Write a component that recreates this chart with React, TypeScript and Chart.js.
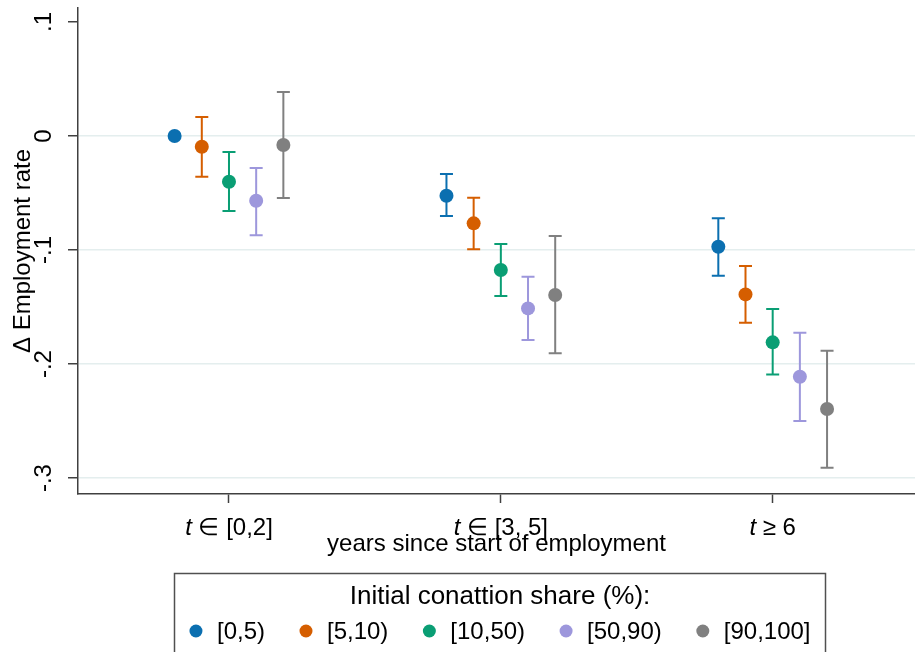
import React, { useEffect, useRef } from 'react';
import { Chart, registerables } from 'chart.js';

Chart.register(...registerables);

// ---------- data ----------
const categories = ['t ∈ [0,2]', 't ∈ [3, 5]', 't ≥ 6'];
const categoryPositions = [1, 2, 3];
const seriesNames = ['[0,5)', '[5,10)', '[10,50)', '[50,90)', '[90,100]'];
const seriesColors = ['#0b6fb0', '#d55e00', '#0a9e74', '#9d97dc', '#808080'];
const seriesOffsets = [-0.2, -0.1, 0, 0.1, 0.2];

const est0to5 = [0, -0.0524, -0.0971];
const hi0to5: (number | null)[] = [null, -0.0333, -0.0722];
const lo0to5: (number | null)[] = [null, -0.0702, -0.1225];

const est5to10 = [-0.0094, -0.0766, -0.1389];
const hi5to10 = [0.0167, -0.0541, -0.114];
const lo5to10 = [-0.0357, -0.0994, -0.1638];

const est10to50 = [-0.0401, -0.1175, -0.181];
const hi10to50 = [-0.014, -0.0947, -0.1518];
const lo10to50 = [-0.0658, -0.1404, -0.2091];

const est50to90 = [-0.0568, -0.1512, -0.2111];
const hi50to90 = [-0.0281, -0.1234, -0.1725];
const lo50to90 = [-0.087, -0.1789, -0.25];

const est90to100 = [-0.0079, -0.1395, -0.2395];
const hi90to100 = [0.0386, -0.0877, -0.1883];
const lo90to100 = [-0.0544, -0.1906, -0.2909];

const yTickValues = [-0.3, -0.2, -0.1, 0, 0.1];
const yTickLabels = ['-.3', '-.2', '-.1', '0', '.1'];

const legendTitle = 'Initial conattion share (%):';
const xTitle = 'years since start of employment';
const yTitle = 'Δ Employment rate';

const estimates = [est0to5, est5to10, est10to50, est50to90, est90to100];
const upper = [hi0to5, hi5to10, hi10to50, hi50to90, hi90to100];
const lower = [lo0to5, lo5to10, lo10to50, lo50to90, lo90to100];

// ---------- style ----------
const FONT = "'Liberation Sans', Arial, sans-serif";
const AXIS_COLOR = '#404040';
const GRID_COLOR = '#e4eeee';

const customPlugin = {
  id: 'customDraw',
  beforeDatasetsDraw(chart: any) {
    const { ctx } = chart;
    const xs = chart.scales.x;
    const ys = chart.scales.y;
    ctx.save();
    ctx.lineWidth = 2;
    estimates.forEach((_, i) => {
      ctx.strokeStyle = seriesColors[i];
      categoryPositions.forEach((p, j) => {
        const hi = upper[i][j];
        const lo = lower[i][j];
        if (hi === null || lo === null) return;
        const px = xs.getPixelForValue(p + seriesOffsets[i]);
        const pt = ys.getPixelForValue(hi);
        const pb = ys.getPixelForValue(lo);
        ctx.beginPath();
        ctx.moveTo(px, pt);
        ctx.lineTo(px, pb);
        ctx.moveTo(px - 6.5, pt);
        ctx.lineTo(px + 6.5, pt);
        ctx.moveTo(px - 6.5, pb);
        ctx.lineTo(px + 6.5, pb);
        ctx.stroke();
      });
    });
    ctx.restore();
  },
  afterDraw(chart: any) {
    const { ctx, chartArea } = chart;
    const xs = chart.scales.x;
    const ys = chart.scales.y;
    ctx.save();
    ctx.fillStyle = '#000';
    // y tick labels (rotated)
    ctx.font = `24px ${FONT}`;
    ctx.textAlign = 'center';
    ctx.textBaseline = 'middle';
    yTickValues.forEach((v, i) => {
      const py = ys.getPixelForValue(v);
      ctx.save();
      ctx.translate(chartArea.left - 33.5, py);
      ctx.rotate(-Math.PI / 2);
      ctx.fillText(yTickLabels[i], 0, 0);
      ctx.restore();
    });
    // x tick labels with italic t
    ctx.textAlign = 'left';
    categories.forEach((lab, j) => {
      const px = xs.getPixelForValue(categoryPositions[j]);
      const first = lab.slice(0, 1);
      const rest = lab.slice(1);
      ctx.font = `italic 24px ${FONT}`;
      const w1 = ctx.measureText(first).width;
      ctx.font = `24px ${FONT}`;
      const w2 = ctx.measureText(rest).width;
      const x0 = px - (w1 + w2) / 2;
      const y = chartArea.bottom + 34;
      ctx.font = `italic 24px ${FONT}`;
      ctx.fillText(first, x0, y);
      ctx.font = `24px ${FONT}`;
      ctx.fillText(rest, x0 + w1, y);
    });
    // legend
    const boxL = 174.5, boxT = 573.5, boxW = 651, boxH = 120;
    ctx.strokeStyle = '#505050';
    ctx.lineWidth = 1.5;
    ctx.strokeRect(boxL, boxT, boxW, boxH);
    const cx = boxL + boxW / 2;
    ctx.font = `26px ${FONT}`;
    ctx.textAlign = 'center';
    ctx.fillText(legendTitle, cx, 597);
    ctx.font = `24px ${FONT}`;
    const r = 6.5, dotToText = 21, gap = 41;
    const widths = seriesNames.map((n) => ctx.measureText(n).width);
    let total = r;
    widths.forEach((w, i) => {
      total += dotToText + w + (i < widths.length - 1 ? gap : 0);
    });
    let x = cx - total / 2 + r;
    const ly = 631;
    ctx.textAlign = 'left';
    seriesNames.forEach((n, i) => {
      ctx.fillStyle = seriesColors[i];
      ctx.beginPath();
      ctx.arc(x, ly, r, 0, Math.PI * 2);
      ctx.fill();
      ctx.fillStyle = '#000';
      ctx.fillText(n, x + dotToText, ly + 1);
      x += dotToText + widths[i] + gap;
    });
    ctx.restore();
  },
};

export default function App() {
  const ref = useRef<HTMLCanvasElement | null>(null);
  useEffect(() => {
    if (!ref.current) return;
    const chart = new Chart(ref.current, {
      type: 'scatter',
      data: {
        datasets: seriesNames.map((name, i) => ({
          label: name,
          data: categoryPositions.map((p, j) => ({ x: p + seriesOffsets[i], y: estimates[i][j] })),
          pointRadius: 7,
          pointHoverRadius: 7,
          pointBackgroundColor: seriesColors[i],
          pointBorderWidth: 0,
          borderColor: seriesColors[i],
          showLine: false,
        })),
      },
      options: {
        animation: false,
        responsive: false,
        maintainAspectRatio: false,
        layout: { autoPadding: false, padding: { left: 0, right: 0, top: 8, bottom: 96 } },
        plugins: { legend: { display: false }, tooltip: { enabled: false } },
        scales: {
          x: {
            type: 'linear',
            min: 0.4446,
            max: 3.5235,
            afterBuildTicks: (s: any) => {
              s.ticks = categoryPositions.map((v) => ({ value: v }));
            },
            afterFit: (s: any) => {
              s.height = 62;
            },
            ticks: { display: false },
            grid: {
              display: true,
              drawOnChartArea: false,
              tickLength: 9,
              tickColor: AXIS_COLOR,
              tickWidth: 1.5,
            },
            border: { display: true, color: AXIS_COLOR, width: 1.5 },
            title: {
              display: true,
              text: xTitle,
              color: '#000',
              font: { family: FONT, size: 24, lineHeight: 1 },
              padding: { top: 0, bottom: 0 },
            },
          },
          y: {
            type: 'linear',
            min: -0.314,
            max: 0.1123,
            afterBuildTicks: (s: any) => {
              s.ticks = yTickValues.map((v) => ({ value: v }));
            },
            afterFit: (s: any) => {
              s.width = 78;
            },
            ticks: { display: false },
            grid: {
              color: (c: any) => (c.tick && c.tick.value > 0.05 ? 'rgba(0,0,0,0)' : GRID_COLOR),
              lineWidth: 1.5,
              tickLength: 10,
              tickColor: AXIS_COLOR,
              tickWidth: 1.5,
            },
            border: { display: true, color: AXIS_COLOR, width: 1.5 },
            title: {
              display: true,
              text: yTitle,
              color: '#000',
              font: { family: FONT, size: 24, lineHeight: 1 },
              padding: { top: 11, bottom: 0 },
            },
          },
        },
      } as any,
      plugins: [customPlugin],
    });
    return () => chart.destroy();
  }, []);
  return (
    <div style={{ position: 'absolute', left: 0, top: 0, width: 915, height: 652, background: '#fff' }}>
      <canvas ref={ref} width={915} height={652} style={{ display: 'block', width: 915, height: 652 }} />
    </div>
  );
}
